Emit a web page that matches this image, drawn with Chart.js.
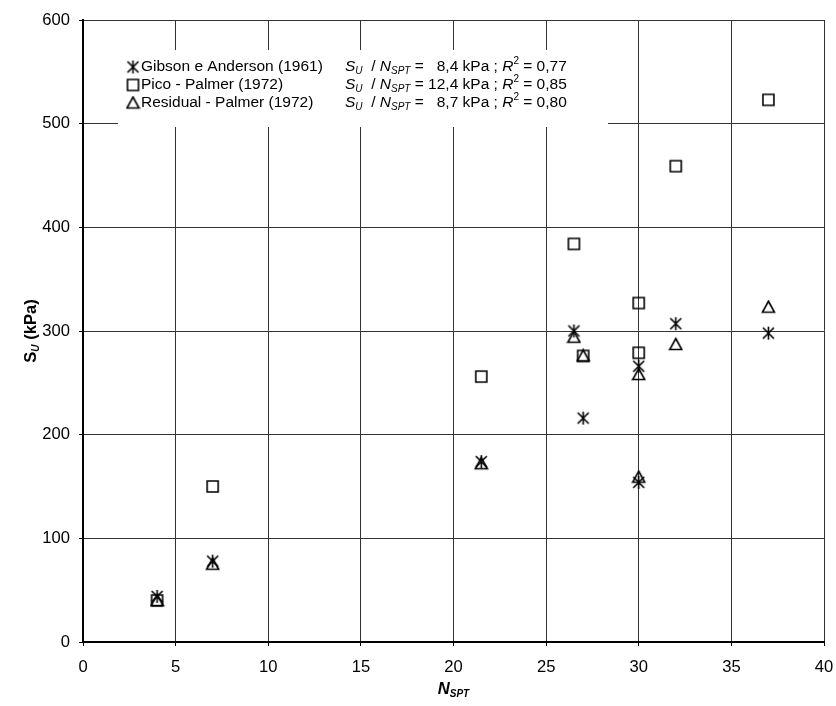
<!DOCTYPE html>
<html>
<head>
<meta charset="utf-8">
<script src="https://cdn.jsdelivr.net/npm/chart.js@4.4.0/dist/chart.umd.min.js"></script>
<style>
  html, body { margin: 0; padding: 0; background: #fff; }
  #wrap { width: 836px; height: 706px; position: relative; }
</style>
</head>
<body>
<div id="wrap"><canvas id="suChart" width="836" height="706"></canvas></div>
<script>
// N_SPT blow counts (same for all three correlations)
const nSpt = [4, 7, 21.5, 26.5, 27, 30, 30, 32, 37];
// undrained strength Su (kPa)
const suGibson = [44, 78, 174, 300, 216, 266, 154, 307, 298];
const suPico = [40, 150, 256, 384, 276, 327, 279, 459, 523];
const suResidual = [40, 75, 172, 294, 276, 258, 159, 287, 323];

const seriesNames = ['Gibson e Anderson (1961)', 'Pico - Palmer (1972)', 'Residual - Palmer (1972)'];
const ratioLabels = ['8,4', '12,4', '8,7'];
const r2Labels = ['0,77', '0,85', '0,80'];
const xTickStep = 5;
const yTickStep = 100;

const FONT = '"Liberation Sans", Arial, sans-serif';
const FS = 16.6;   // axis text size
const LS = 15.5;   // legend text size
const SUB = 10;    // sub/superscript size

function makeMarker(kind) {
  const c = document.createElement('canvas');
  c.width = 15;
  c.height = 15;
  const g = c.getContext('2d');
  g.strokeStyle = '#000';
  g.lineWidth = 1.6;
  g.beginPath();
  if (kind === 'asterisk') {
    g.moveTo(2, 2); g.lineTo(13, 13);
    g.moveTo(13, 2); g.lineTo(2, 13);
    g.moveTo(7.5, 1); g.lineTo(7.5, 14);
  } else if (kind === 'square') {
    g.rect(2, 2, 11, 11);
  } else {
    g.moveTo(7.5, 1.5); g.lineTo(13.5, 12.5); g.lineTo(1.5, 12.5); g.closePath();
  }
  g.stroke();
  return c;
}

const markers = [makeMarker('asterisk'), makeMarker('square'), makeMarker('triangle')];

function toPoints(ys) {
  return nSpt.map((x, i) => ({ x: x, y: ys[i] }));
}

// draw a sequence of text pieces with their own font / vertical shift
function drawRuns(ctx, x, y, runs) {
  let cx = x;
  runs.forEach(r => {
    ctx.font = r.f;
    ctx.fillText(r.t, cx, y + (r.dy || 0));
    cx += ctx.measureText(r.t).width;
  });
  return cx;
}

function runsWidth(ctx, runs) {
  let w = 0;
  runs.forEach(r => { ctx.font = r.f; w += ctx.measureText(r.t).width; });
  return w;
}

const it = s => 'italic ' + s + 'px ' + FONT;
const rg = s => s + 'px ' + FONT;

const legendBox = {
  id: 'legendBox',
  beforeDatasetsDraw(chart) {
    const ctx = chart.ctx;
    ctx.save();
    ctx.fillStyle = '#fff';
    ctx.fillRect(118, 50, 490, 77);
    ctx.fillStyle = '#000';
    ctx.textBaseline = 'middle';
    const rowY = [67, 85, 103];
    seriesNames.forEach((name, i) => {
      const y = rowY[i];
      const m = markers[i];
      ctx.drawImage(m, 133 - m.width / 2, y - m.height / 2);
      ctx.font = rg(LS);
      ctx.fillText(name, 141, y);
      // S_U / N_SPT = ratio kPa ; R² = value
      const x1 = drawRuns(ctx, 345, y, [
        { t: 'S', f: it(LS) },
        { t: 'U', f: it(SUB), dy: 4 },
        { t: '  / ', f: rg(LS) },
        { t: 'N', f: it(LS) },
        { t: 'SPT', f: it(SUB), dy: 4 },
        { t: ' = ', f: rg(LS) }
      ]);
      ctx.font = rg(LS);
      const numEnd = x1 + ctx.measureText('12,4').width;
      ctx.textAlign = 'right';
      ctx.fillText(ratioLabels[i], numEnd, y);
      ctx.textAlign = 'left';
      drawRuns(ctx, numEnd, y, [
        { t: ' kPa ; ', f: rg(LS) },
        { t: 'R', f: it(LS) },
        { t: '2', f: rg(SUB), dy: -6 },
        { t: ' = ' + r2Labels[i], f: rg(LS) }
      ]);
    });
    ctx.restore();
  }
};

const axisTitles = {
  id: 'axisTitles',
  afterDraw(chart) {
    const ctx = chart.ctx;
    const area = chart.chartArea;
    ctx.save();
    ctx.fillStyle = '#000';
    ctx.textBaseline = 'middle';
    // x axis title
    const xRuns = [
      { t: 'N', f: 'bold italic ' + FS + 'px ' + FONT },
      { t: 'SPT', f: 'bold italic ' + SUB + 'px ' + FONT, dy: 5 }
    ];
    const xw = runsWidth(ctx, xRuns);
    drawRuns(ctx, (area.left + area.right) / 2 - xw / 2, 689, xRuns);
    // y axis title
    const yRuns = [
      { t: 'S', f: 'bold ' + FS + 'px ' + FONT },
      { t: 'U', f: 'bold italic ' + SUB + 'px ' + FONT, dy: 5 },
      { t: ' (kPa)', f: 'bold ' + FS + 'px ' + FONT }
    ];
    const yw = runsWidth(ctx, yRuns);
    ctx.translate(31, (area.top + area.bottom) / 2);
    ctx.rotate(-Math.PI / 2);
    drawRuns(ctx, -yw / 2, 0, yRuns);
    ctx.restore();
  }
};

const ds = (label, ys, i) => ({
  label: label,
  data: toPoints(ys),
  pointStyle: markers[i],
  pointRadius: 7,
  pointHoverRadius: 7,
  showLine: false
});

new Chart(document.getElementById('suChart'), {
  type: 'scatter',
  data: {
    datasets: [
      ds(seriesNames[0], suGibson, 0),
      ds(seriesNames[1], suPico, 1),
      ds(seriesNames[2], suResidual, 2)
    ]
  },
  options: {
    responsive: false,
    animation: false,
    events: [],
    layout: { padding: { top: 20, right: 0, left: 0, bottom: 0 } },
    plugins: {
      legend: { display: false },
      tooltip: { enabled: false }
    },
    scales: {
      x: {
        type: 'linear',
        min: 0,
        max: 40,
        afterFit(scale) {
          scale.height = 64;
          scale.paddingLeft = 0;
          scale.paddingRight = 12;
        },
        ticks: { stepSize: xTickStep, color: '#000', font: { family: FONT, size: FS }, padding: 11 },
        grid: { color: '#333', lineWidth: 1, tickLength: 4, tickColor: '#000' },
        border: { color: '#000', width: 2 }
      },
      y: {
        type: 'linear',
        min: 0,
        max: 600,
        afterFit(scale) { scale.width = 83; },
        ticks: { stepSize: yTickStep, color: '#000', font: { family: FONT, size: FS }, padding: 9 },
        grid: { color: '#333', lineWidth: 1, tickLength: 4, tickColor: '#000' },
        border: { color: '#000', width: 2 }
      }
    }
  },
  plugins: [legendBox, axisTitles]
});
</script>
</body>
</html>
